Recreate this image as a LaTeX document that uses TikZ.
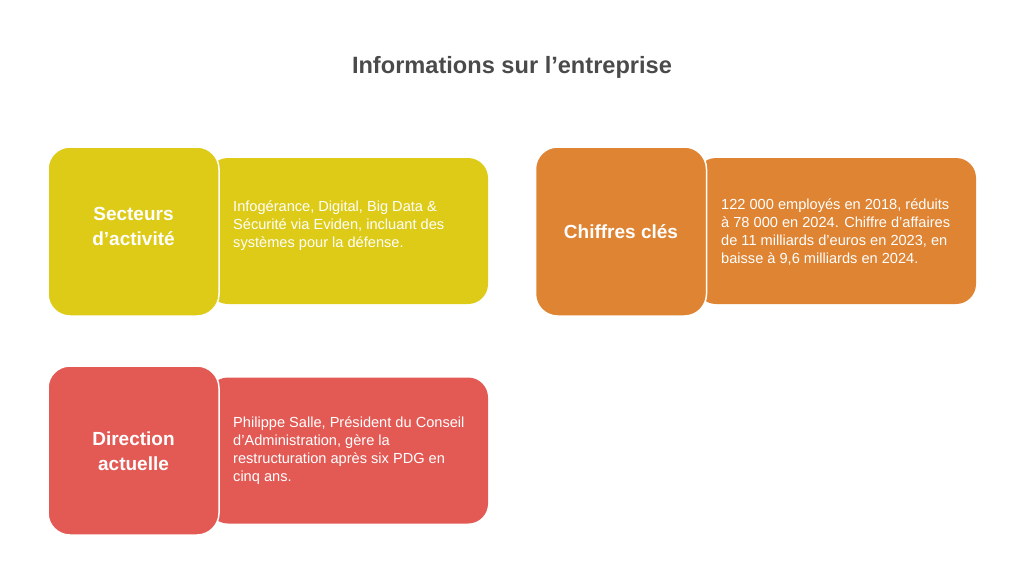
\documentclass[tikz,border=0pt]{standalone}
\usepackage{fontspec}
\setmainfont{Liberation Sans}[Ligatures=ResetAll]
\definecolor{amarillo}{HTML}{DECB17}
\definecolor{naranja}{HTML}{DE8433}
\definecolor{rojo}{HTML}{E35A55}
\definecolor{titulo}{HTML}{4A4A4A}
\begin{document}
\begin{tikzpicture}[x=1pt,y=-1pt,
  caja/.style={rectangle,rounded corners=20pt,minimum width=280pt,minimum height=146pt,inner sep=0pt},
  cuadro/.style={rectangle,rounded corners=22pt,draw=white,line width=1.5pt,minimum width=171pt,minimum height=169pt,inner sep=0pt},
  jefe/.style={text=white,font=\fontsize{19}{25}\selectfont\bfseries,align=center},
  texto/.style={text=white,font=\fontsize{14.6}{18}\selectfont,align=left,anchor=west,inner sep=0pt}]
\useasboundingbox (0,0) rectangle (1024,573);
%
% titulo
\node[text=titulo,font=\fontsize{23.6}{28}\selectfont\bfseries] (0) at (512,67) {Informations sur l'entreprise};
%
% cajas de fondo
\node[caja,fill=amarillo] (1) at (348,231) {};
\node[caja,fill=naranja] (2) at (836,231) {};
\node[caja,fill=rojo] (3) at (348,450.5) {};
%
% cuadros de encabezado
\node[cuadro,fill=amarillo] (4) at (133.5,231.5) {};
\node[cuadro,fill=naranja] (5) at (621,231.5) {};
\node[cuadro,fill=rojo] (6) at (133.5,450.5) {};
%
% encabezados
\node[jefe] (7) at (133.5,226) {Secteurs\\d'activité};
\node[jefe] (8) at (621,232) {Chiffres clés};
\node[jefe] (9) at (133.5,451) {Direction\\actuelle};
%
% textos
\node[texto] (10) at (233,225.5) {Infogérance, Digital, Big Data \&\\Sécurité via Eviden, incluant des\\systèmes pour la défense.};
\node[texto] (11) at (721,232.5) {122 000 employés en 2018, réduits\\à 78 000 en 2024. Chiffre d'affaires\\de 11 milliards d'euros en 2023, en\\baisse à 9,6 milliards en 2024.};
\node[texto] (12) at (233,450.5) {Philippe Salle, Président du Conseil\\d'Administration, gère la\\restructuration après six PDG en\\cinq ans.};
%
\end{tikzpicture}
\end{document}
